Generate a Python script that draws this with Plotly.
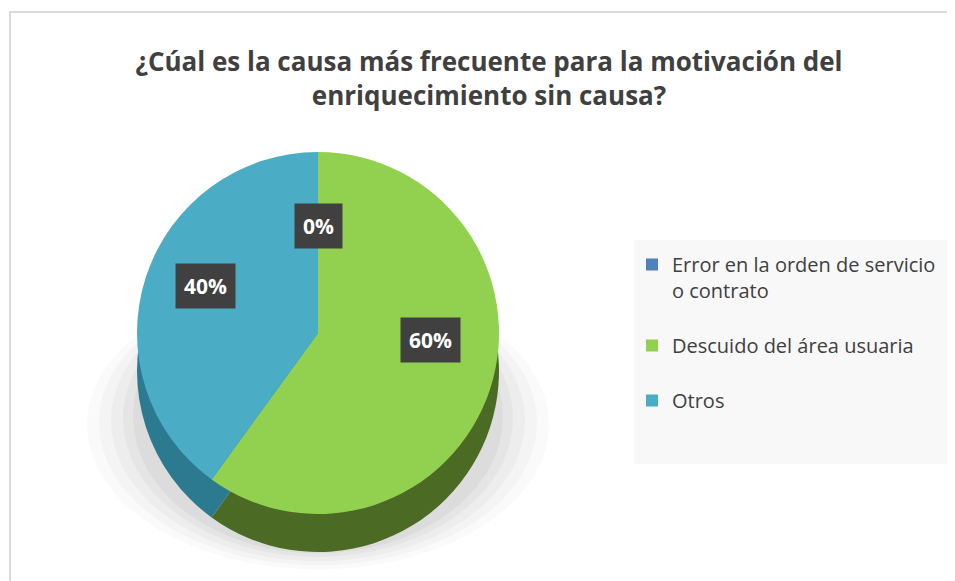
import math
import plotly.graph_objects as go

# ---- data ----
labels = ["Error en la orden de servicio<br>o contrato<br> ", "Descuido del área usuaria<br> ", "Otros"]
values = [0, 60, 40]
pct_text = ["0%", "60%", "40%"]
top_colors = ["#4f81bd", "#92d050", "#4bacc6"]
side_colors = ["#2e4d73", "#4b6a24", "#2b7a90"]

W, H = 955, 581
OFF = 8  # page body margin offset
cx, cy, r = 318 - OFF, 333 - OFF, 181
depth = 38


def px(x):
    return x / W


def py(y):
    return 1 - y / H


def dom_x(c, rad):
    return [px(c - rad), px(c + rad)]


def dom_y(c, rad):
    return [py(c + rad), py(c - rad)]


fig = go.Figure()

# darker "side" of the 3D pie (shifted downwards)
fig.add_trace(go.Pie(
    labels=labels, values=values, sort=False, direction="clockwise", rotation=0,
    marker=dict(colors=side_colors, line=dict(width=0)),
    textinfo="none", hoverinfo="skip", showlegend=False,
    domain=dict(x=dom_x(cx, r), y=dom_y(cy + depth, r)),
))
# top face
fig.add_trace(go.Pie(
    labels=labels, values=values, sort=False, direction="clockwise", rotation=0,
    marker=dict(colors=top_colors, line=dict(width=0)),
    textinfo="none", showlegend=True,
    domain=dict(x=dom_x(cx, r), y=dom_y(cy, r)),
))

# data labels placed at slice mid-angles
total = sum(values)
start = 0.0
annotations = []
lx, ly = 118, 87
for v, t in zip(values, pct_text):
    frac = v / total
    mid = (start + frac / 2) * 2 * math.pi
    start += frac
    x = cx + lx * math.sin(mid)
    y = cy - 20 - ly * math.cos(mid)
    annotations.append(dict(
        x=px(x), y=py(y), xref="paper", yref="paper", xanchor="center", yanchor="middle",
        text=f"<b>{t}</b>", showarrow=False,
        font=dict(family="Open Sans", size=21, color="white"),
        bgcolor="#404040", borderpad=8,
    ))

shapes = [
    # chart frame
    dict(type="rect", xref="paper", yref="paper", x0=px(10 - OFF), x1=1.05, y0=-0.05, y1=py(12 - OFF),
         line=dict(color="#d0d0d0", width=1.5), fillcolor="rgba(0,0,0,0)", layer="below"),
    # legend background
    dict(type="rect", xref="paper", yref="paper", x0=px(634 - OFF), x1=px(950 - OFF),
         y0=py(464 - OFF), y1=py(240 - OFF), line=dict(width=0), fillcolor="#f8f8f8", layer="below"),
]
# soft shadow (layers of faint ellipses)
for grow, a in [(50, 0.018), (38, 0.022), (26, 0.026), (14, 0.03), (4, 0.035)]:
    shapes.append(dict(
        type="circle", xref="paper", yref="paper",
        x0=px(cx - r - grow), x1=px(cx + r + grow),
        y0=py(cy + depth + r + grow * 0.35), y1=py(cy + depth - r + 90),
        line=dict(width=0), fillcolor=f"rgba(0,0,0,{a})", layer="below"))

fig.update_layout(
    width=W, height=H,
    margin=dict(l=0, r=0, t=0, b=0),
    paper_bgcolor="white", plot_bgcolor="white",
    title=dict(
        text="<b>¿Cúal es la causa más frecuente para la motivación del<br>enriquecimiento sin causa?</b>",
        x=px(489 - OFF), xanchor="center", y=py(71 - OFF), yanchor="middle",
        font=dict(family="Open Sans", size=26, color="#404040"),
    ),
    legend=dict(
        x=px(624 - OFF + 8), y=py(245 - OFF), xanchor="left", yanchor="top",
        bgcolor="rgba(0,0,0,0)", font=dict(family="Open Sans", size=20, color="#404040"),
        valign="top", itemwidth=30,
    ),
    annotations=annotations,
    shapes=shapes,
)

fig.write_html("out.html")
